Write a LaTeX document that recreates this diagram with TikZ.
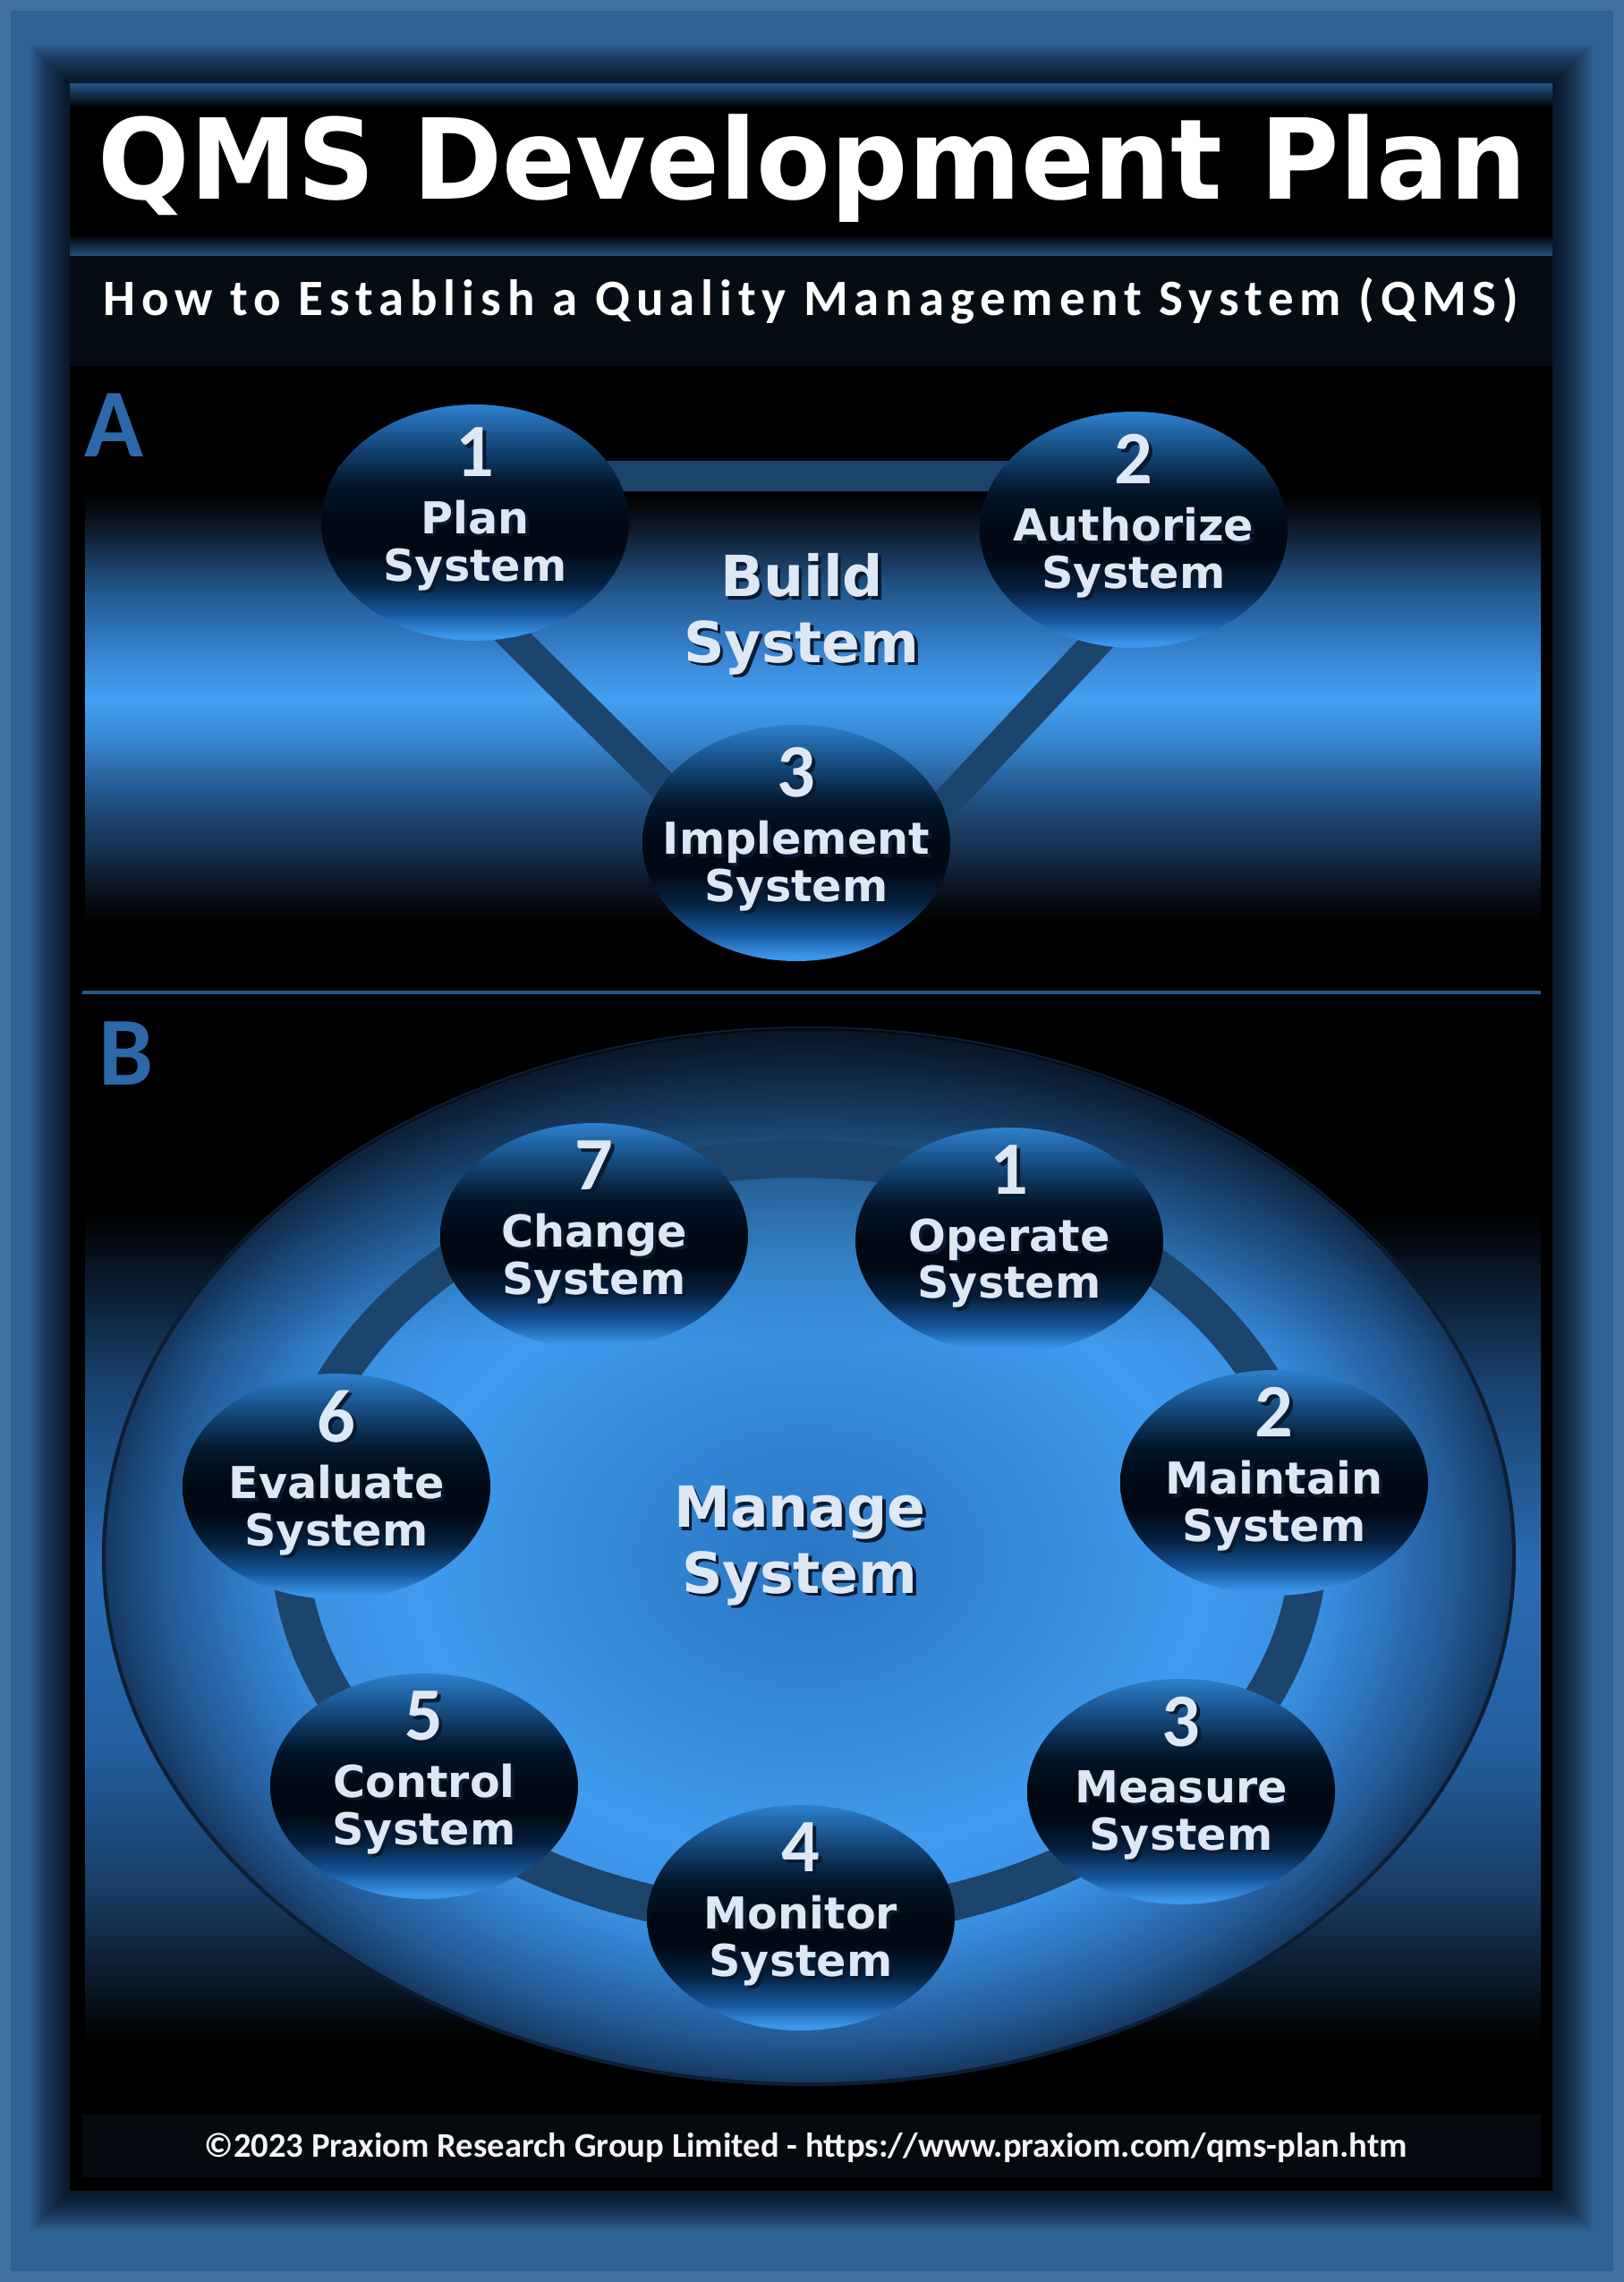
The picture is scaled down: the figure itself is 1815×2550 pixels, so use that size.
\documentclass[tikz,border=0pt]{standalone}
\usepackage{graphicx}
\usepackage{fontspec}
\setmainfont{DejaVu Sans}
\newfontfamily\calfont{Carlito}
\newfontfamily\subfont[LetterSpace=12]{Carlito}
\usetikzlibrary{shapes.geometric, fadings}

\definecolor{frameblue}{RGB}{48,98,150}
\definecolor{framelight}{RGB}{76,122,168}
\definecolor{stripe}{RGB}{35,84,132}
\definecolor{subband}{RGB}{16,36,58}
\definecolor{subedge}{RGB}{5,12,20}
\definecolor{barblue}{RGB}{28,68,108}
\definecolor{paletext}{RGB}{222,232,245}
\definecolor{txtshadow}{RGB}{10,26,48}
\definecolor{tagblue}{RGB}{45,105,168}
\definecolor{sepblue}{RGB}{38,88,138}
\definecolor{footband}{RGB}{6,10,16}
\definecolor{discedge}{RGB}{12,30,52}
% ellipse nodes, bottom to top
\definecolor{stgA}{RGB}{60,150,235}
\definecolor{stgB}{RGB}{22,85,155}
\definecolor{stgC}{RGB}{5,32,62}
\definecolor{stgD}{RGB}{0,9,20}
\definecolor{stgE}{RGB}{2,22,42}
\definecolor{stgF}{RGB}{20,70,120}
\definecolor{stgG}{RGB}{45,128,205}
% band behind part A
\definecolor{bandAa}{RGB}{10,20,35}
\definecolor{bandAb}{RGB}{22,50,80}
\definecolor{bandAc}{RGB}{30,70,115}
\definecolor{bandAd}{RGB}{40,100,160}
\definecolor{bandAe}{RGB}{55,135,210}
\definecolor{bandAf}{RGB}{66,160,242}
\definecolor{bandAg}{RGB}{60,140,220}
\definecolor{bandAh}{RGB}{45,115,185}
\definecolor{bandAi}{RGB}{35,90,145}
\definecolor{bandAj}{RGB}{25,55,90}
\definecolor{bandAk}{RGB}{10,20,30}
% band behind part B
\definecolor{bandBa}{RGB}{25,60,100}
\definecolor{bandBb}{RGB}{35,95,160}
\definecolor{bandBc}{RGB}{42,108,180}
\definecolor{bandBd}{RGB}{25,65,110}
% big disc
\definecolor{discA}{RGB}{42,118,195}
\definecolor{discB}{RGB}{52,138,218}
\definecolor{discC}{RGB}{64,155,238}
\definecolor{discD}{RGB}{58,145,228}
\definecolor{discE}{RGB}{46,118,192}
\definecolor{discF}{RGB}{34,88,148}
\definecolor{discG}{RGB}{22,56,96}

\pgfdeclareverticalshading{stageshade}{100bp}{color(0bp)=(stgA); color(26bp)=(stgA);
  color(31bp)=(stgB); color(37.5bp)=(stgC); color(44bp)=(stgD); color(50bp)=(stgD);
  color(58bp)=(stgE); color(66bp)=(stgF); color(75bp)=(stgG); color(100bp)=(stgG)}
\pgfdeclareverticalshading{bandA}{100bp}{color(0bp)=(black); color(31.2bp)=(black);
  color(35bp)=(bandAa); color(38.7bp)=(bandAb); color(42.3bp)=(bandAc);
  color(46bp)=(bandAd); color(49.7bp)=(bandAe); color(53.9bp)=(bandAf);
  color(57.1bp)=(bandAg); color(60.8bp)=(bandAh); color(64.4bp)=(bandAi);
  color(68.1bp)=(bandAj); color(71.8bp)=(bandAk); color(74.6bp)=(black); color(100bp)=(black)}
\pgfdeclareverticalshading{bandB}{100bp}{color(0bp)=(black); color(31bp)=(black);
  color(37.3bp)=(bandBa); color(43.4bp)=(bandBb); color(50.8bp)=(bandBc);
  color(58.7bp)=(bandBd); color(65.8bp)=(black); color(100bp)=(black)}
\pgfdeclareradialshading{discshade}{\pgfpoint{0bp}{0bp}}{color(0bp)=(discA);
  color(8bp)=(discB); color(14bp)=(discC); color(18bp)=(discD); color(20.5bp)=(discE);
  color(23bp)=(discF); color(25bp)=(discG); color(50bp)=(discG)}
\tikzfading[name=fadedown, top color=transparent!35, bottom color=transparent!100]

\newcommand{\shtxt}[1]{\makebox[0pt][l]{\raisebox{-0.035cm}{\hspace{0.035cm}\textcolor{txtshadow}{#1}}}#1}
\newcommand{\numfont}{\calfont\bfseries\fontsize{24pt}{24pt}\selectfont}
\newcommand{\stagetext}[3]{\smash{\makebox[0pt]{\begin{tabular}{@{}c@{}}\shtxt{\numfont #1}\\[3pt]\shtxt{#2}\\\shtxt{#3}\end{tabular}}}}

\begin{document}
\begin{tikzpicture}[x=0.1mm, y=-0.1mm,
    stage/.style={ellipse, minimum width=3.44cm, minimum height=2.64cm, inner sep=0pt,
                  shade, shading=stageshade, text=paletext,
                  font=\bfseries\fontsize{14pt}{15pt}\selectfont},
    stageB/.style={stage, minimum height=2.52cm},
    hub/.style={align=center, text=paletext, font=\bfseries\fontsize{18pt}{21pt}\selectfont},
    disc/.style={ellipse, minimum width=15.76cm, minimum height=11.8cm, inner sep=0pt,
                 shade, shading=discshade, draw=discedge, line width=1.2pt},
    bar/.style={draw=barblue, line width=0.34cm, line join=round},
    tag/.style={anchor=base, text=tagblue, font=\calfont\bfseries\fontsize{31pt}{31pt}\selectfont}
  ]
  \useasboundingbox (0,0) rectangle (1815,2550);

  % frame and panel
  \fill[frameblue] (0,0) rectangle (1815,2550);
  \draw[framelight, line width=3.5pt, opacity=0.7] (6,6) rectangle (1809,2544);
  \foreach \d in {1,2.5,...,45}
    \fill[black, opacity=0.035] ({78-\d},{94-\d}) rectangle ({1735+\d},{2448+\d});
  \fill[black] (78,94) rectangle (1735,2448);

  % title and subtitle bands
  \shade[top color=stripe, bottom color=black] (78,94) rectangle (1735,120);
  \shade[top color=black, bottom color=stripe] (78,262) rectangle (1735,287);
  \shade[left color=subedge, middle color=subband, right color=subedge] (78,287) rectangle (1735,409);

  % part bands
  \shade[shading=bandA] (95,547) rectangle (1722,1100);
  \draw[sepblue, line width=0.9pt] (92,1109) -- (1722,1109);
  \shade[shading=bandB] (95,1112) rectangle (1722,2440);
  \fill[footband] (92,2363) rectangle (1722,2433);

  % part A
  \coordinate (ta) at (392,532);
  \coordinate (tb) at (1400,532);
  \coordinate (tc) at (914,1050);
  \draw[bar] (ta) -- (tb) -- (tc) -- cycle;

  \node[stage] (plan) at (531,584) {\stagetext{1}{Plan}{System}};
  \node[stage] (authorize) at (1267,592) {\stagetext{2}{Authorize}{System}};
  \node[stage] (implement) at (890,942) {\stagetext{3}{Implement}{System}};
  \node[hub] (build) at (896,688) {\shtxt{Build}\\\shtxt{System}};
  \node[tag] (partA) at (128,510) {A};

  % part B
  \node[disc] (cycle) at (904,1739) {};
  \begin{scope}
    \clip (cycle.center) ellipse [x radius=7.88cm, y radius=5.9cm];
    \fill[black, path fading=fadedown] (90,1145) rectangle (1720,1500);
  \end{scope}
  \coordinate (ringc) at (893,1720);
  \draw[bar, line width=0.42cm] (ringc) ellipse [x radius=5.7cm, y radius=4.25cm];

  \foreach \nm/\px/\py/\idx/\lbl in {operate/1128/1386/1/Operate, maintain/1424/1657/2/Maintain,
      measure/1320/2002/3/Measure, monitor/895/2143/4/Monitor, control/474/1996/5/Control,
      evaluate/376/1661/6/Evaluate, change/664/1381/7/Change}
    \node[stageB] (\nm) at (\px,\py) {\stagetext{\idx}{\lbl}{System}};
  \node[hub] (manage) at (894,1729) {\shtxt{Manage}\\\shtxt{System}};
  \node[tag] (partB) at (141,1212) {B};

  % texts
  \node[anchor=base, text=white, font=\bfseries\fontsize{35.5pt}{40pt}\selectfont]
    (title) at (908,223) {\scalebox{0.968}[1]{QMS Development Plan}};
  \node[anchor=base, text=white, font=\subfont\bfseries\fontsize{16.2pt}{19pt}\selectfont]
    (subtitle) at (906,353) {How to Establish a Quality Management System (QMS)};
  \node[anchor=base, text=white!92!gray, font=\calfont\bfseries\fontsize{11pt}{13pt}\selectfont]
    (footer) at (901,2410) {©2023 Praxiom Research Group Limited - https://www.praxiom.com/qms-plan.htm};
\end{tikzpicture}
\end{document}
